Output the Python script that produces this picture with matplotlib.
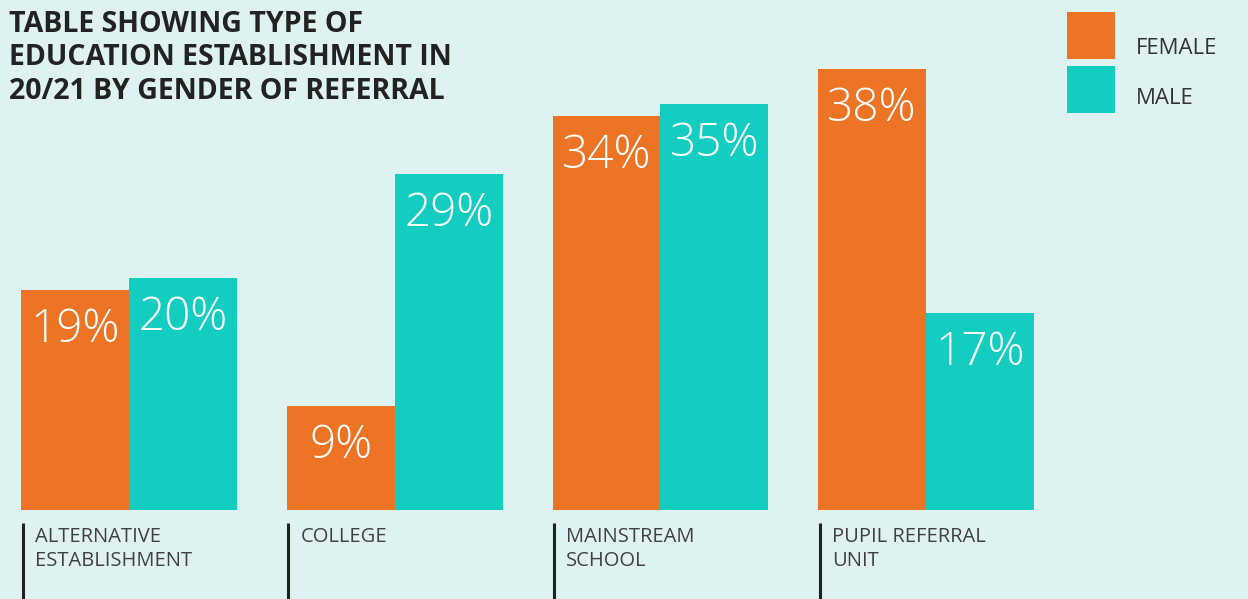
import numpy as np
import matplotlib
matplotlib.use("Agg")
import matplotlib.pyplot as plt
from matplotlib.patches import Rectangle

# data
categories = ["ALTERNATIVE\nESTABLISHMENT", "COLLEGE", "MAINSTREAM\nSCHOOL", "PUPIL REFERRAL\nUNIT"]
female = [19, 9, 34, 38]
male = [20, 29, 35, 17]
series_names = ["FEMALE", "MALE"]

bg = "#dff2f2"
c_female = "#ec7424"
c_male = "#12cdc0"

W, H = 1248, 599
fig = plt.figure(figsize=(W / 100, H / 100), dpi=100, facecolor=bg)

# axes spans whole width, bottom at the bars' baseline
base_px = 510
px_per_unit = 11.6
ax = fig.add_axes([0, (H - base_px) / H, 1, base_px / H])
ax.set_facecolor(bg)
ax.set_ylim(0, base_px / px_per_unit)
group_px = 265.7
x0_px = 129
ax.set_xlim(-x0_px / group_px, (W - x0_px) / group_px)
ax.axis("off")

x = np.arange(len(categories))
bw = 0.406
ax.bar(x - bw / 2, female, bw, color=c_female, linewidth=0)
ax.bar(x + bw / 2, male, bw, color=c_male, linewidth=0)

# value labels inside bars
off = 40 / px_per_unit
for xs, vals in ((x - bw / 2, female), (x + bw / 2, male)):
    for xi, v in zip(xs, vals):
        ax.text(xi, v - off, f"{v}%", ha="center", va="center", color="white",
                fontsize=33, family="Open Sans", fontweight=300)

# category ticks and labels under the baseline
y_top = -13 / px_per_unit
y_bot = -(H - base_px) / px_per_unit
for xi, lab in zip(x, categories):
    ax.plot([xi - 0.4, xi - 0.4], [y_top, y_bot], color="#222222", lw=2.2,
            clip_on=False, solid_capstyle="butt")
    ax.text(xi - 0.355, -17 / px_per_unit, lab, ha="left", va="top", color="#404040",
            fontsize=14.5, family="Open Sans", linespacing=1.25, clip_on=False)

# title
fig.text(9 / W, 1 - 10 / H, "TABLE SHOWING TYPE OF\nEDUCATION ESTABLISHMENT IN\n20/21 BY GENDER OF REFERRAL",
         ha="left", va="top", fontsize=20.5, fontweight="bold", family="Open Sans",
         color="#222222", linespacing=1.2)

# legend
for i, (name, col) in enumerate(zip(series_names, [c_female, c_male])):
    top = 12 + i * 54
    fig.add_artist(Rectangle((1067 / W, 1 - (top + 47) / H), 48 / W, 47 / H,
                             transform=fig.transFigure, facecolor=col, edgecolor="none"))
    fig.text(1136 / W, 1 - (top + 36 - 3 * i) / H, name, ha="left", va="center",
             fontsize=16, family="Open Sans", color="#333333")

fig.savefig("out.png", dpi=100, facecolor=bg)
